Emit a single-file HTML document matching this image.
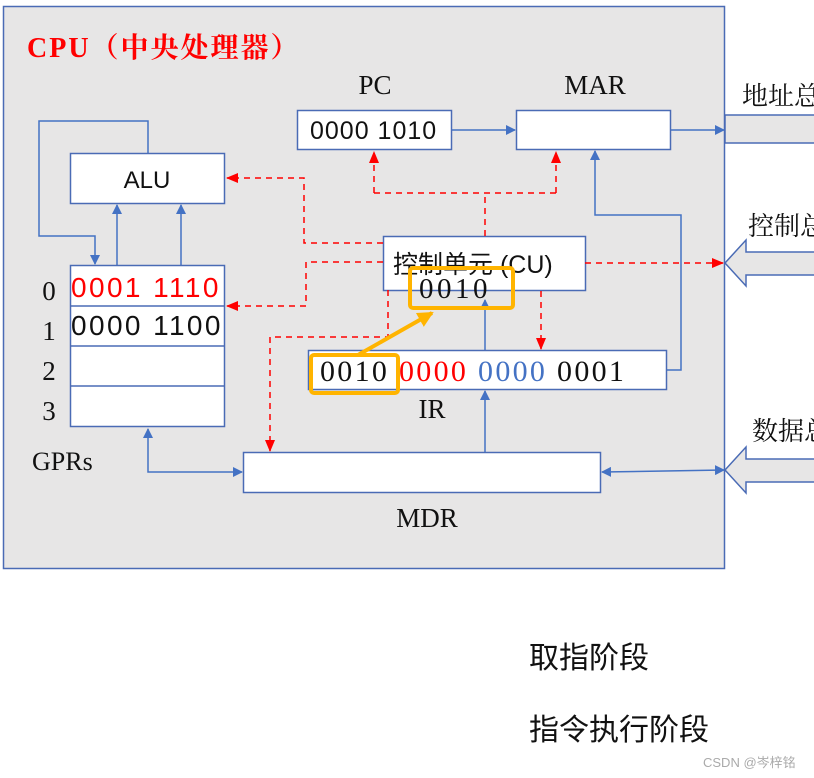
<!DOCTYPE html>
<html><head><meta charset="utf-8"><style>
html,body{margin:0;padding:0;background:#fff;width:814px;height:778px;overflow:hidden}
svg{display:block}
.s{font-family:"Liberation Serif","Noto Serif CJK SC",serif}
.a{font-family:"Liberation Sans","Noto Sans CJK SC",sans-serif}
</style></head><body>
<svg width="814" height="778" viewBox="0 0 814 778" xmlns="http://www.w3.org/2000/svg">
<defs>
<marker id="b" markerWidth="10" markerHeight="10" refX="9" refY="5" orient="auto" markerUnits="userSpaceOnUse"><path d="M0,0 L10,5 L0,10 z" fill="#4472c4"/></marker>
<marker id="bs" markerWidth="10" markerHeight="10" refX="1" refY="5" orient="auto" markerUnits="userSpaceOnUse"><path d="M10,0 L0,5 L10,10 z" fill="#4472c4"/></marker>
<marker id="r" markerWidth="12" markerHeight="12" refX="11" refY="6" orient="auto" markerUnits="userSpaceOnUse"><path d="M0,1 L12,6 L0,11 z" fill="#f00"/></marker>
<marker id="o" markerWidth="16" markerHeight="16" refX="14" refY="8" orient="auto" markerUnits="userSpaceOnUse"><path d="M0,0 L16,8 L0,16 z" fill="#ffb400"/></marker>
</defs>
<rect x="3.5" y="6.5" width="721" height="562" fill="#e7e6e6" stroke="#4a6bb5" stroke-width="1.5"/>
<text x="27" y="57" class="s" font-size="28" font-weight="bold" fill="#f00" letter-spacing="2">CPU（中央处理器）</text>
<rect x="725" y="115" width="100" height="28" fill="#e7e6e6" stroke="#4a6bb5" stroke-width="1.5"/>
<text x="742" y="105" class="s" font-size="26" fill="#111">地址总线</text>
<path d="M725,263 L746,240 L746,252 L830,252 L830,275 L746,275 L746,286 z" fill="#e7e6e6" stroke="#4a6bb5" stroke-width="1.5"/>
<text x="748" y="235" class="s" font-size="26" fill="#111">控制总线</text>
<path d="M725,470 L746,447 L746,459 L830,459 L830,482 L746,482 L746,493 z" fill="#e7e6e6" stroke="#4a6bb5" stroke-width="1.5"/>
<text x="752" y="440" class="s" font-size="26" fill="#111">数据总线</text>
<text x="375" y="94" class="s" font-size="27" text-anchor="middle" fill="#111">PC</text>
<rect x="297.5" y="110.5" width="154" height="39" fill="#fff" stroke="#4a6bb5" stroke-width="1.5"/>
<text x="310" y="139" class="a" font-size="25" letter-spacing="1" fill="#111">0000 1010</text>
<text x="595" y="94" class="s" font-size="27" text-anchor="middle" fill="#111">MAR</text>
<rect x="516.5" y="110.5" width="154" height="39" fill="#fff" stroke="#4a6bb5" stroke-width="1.5"/>
<line x1="452" y1="130" x2="515" y2="130" stroke="#4472c4" stroke-width="1.5" marker-end="url(#b)"/>
<line x1="671" y1="130" x2="724" y2="130" stroke="#4472c4" stroke-width="1.5" marker-end="url(#b)"/>
<rect x="70.5" y="153.5" width="154" height="50" fill="#fff" stroke="#4a6bb5" stroke-width="1.5"/>
<text x="147" y="188" class="a" font-size="24" text-anchor="middle" fill="#111">ALU</text>
<polyline points="148,153 148,121 39,121 39,236 95,236 95,264" fill="none" stroke="#4472c4" stroke-width="1.5" marker-end="url(#b)"/>
<line x1="117" y1="265" x2="117" y2="205" stroke="#4472c4" stroke-width="1.5" marker-end="url(#b)"/>
<line x1="181" y1="265" x2="181" y2="205" stroke="#4472c4" stroke-width="1.5" marker-end="url(#b)"/>
<rect x="70.5" y="265.5" width="154" height="161" fill="#fff" stroke="#4a6bb5" stroke-width="1.5"/>
<line x1="70" y1="306" x2="224" y2="306" stroke="#4a6bb5" stroke-width="1.5"/>
<line x1="70" y1="346" x2="224" y2="346" stroke="#4a6bb5" stroke-width="1.5"/>
<line x1="70" y1="386" x2="224" y2="386" stroke="#4a6bb5" stroke-width="1.5"/>
<text x="71" y="297" class="a" font-size="28" letter-spacing="2.4" fill="#f00">0001 1110</text>
<text x="71" y="335" class="a" font-size="28" letter-spacing="2.4" fill="#111">0000 1100</text>
<g class="s" font-size="27" fill="#111" text-anchor="middle">
<text x="49" y="300">0</text><text x="49" y="340">1</text><text x="49" y="380">2</text><text x="49" y="420">3</text>
</g>
<text x="32" y="470" class="s" font-size="26" fill="#111">GPRs</text>
<rect x="243.5" y="452.5" width="357" height="40" fill="#fff" stroke="#4a6bb5" stroke-width="1.5"/>
<text x="427" y="527" class="s" font-size="27" text-anchor="middle" fill="#111">MDR</text>
<polyline points="148,429 148,472 242,472" fill="none" stroke="#4472c4" stroke-width="1.5" marker-start="url(#bs)" marker-end="url(#b)"/>
<line x1="602" y1="472" x2="724" y2="470" stroke="#4472c4" stroke-width="1.5" marker-start="url(#bs)" marker-end="url(#b)"/>
<rect x="308.5" y="350.5" width="358" height="39" fill="#fff" stroke="#4a6bb5" stroke-width="1.5"/>
<text x="320" y="381" class="s" font-size="30" letter-spacing="2.3" fill="#111">0010 <tspan fill="#f00">0000</tspan> <tspan fill="#4472c4">0000</tspan> 0001</text>
<text x="432" y="418" class="s" font-size="27" text-anchor="middle" fill="#111">IR</text>
<line x1="485" y1="452" x2="485" y2="391" stroke="#4472c4" stroke-width="1.5" marker-end="url(#b)"/>
<line x1="485" y1="350" x2="485" y2="300" stroke="#4472c4" stroke-width="1.5" marker-end="url(#b)"/>
<polyline points="667,370 681,370 681,215 595,215 595,151" fill="none" stroke="#4472c4" stroke-width="1.5" marker-end="url(#b)"/>
<rect x="383.5" y="236.5" width="202" height="54" fill="#fff" stroke="#4a6bb5" stroke-width="1.5"/>
<text x="393" y="273" class="a" font-size="25" fill="#111">控制单元 (CU)</text>
<text x="419" y="298" class="s" font-size="29" letter-spacing="3.5" fill="#111">0010</text>
<g fill="none" stroke="#f00" stroke-width="1.5" stroke-dasharray="6,5">
<polyline points="485,236 485,193"/>
<polyline points="374,193 556,193"/>
<line x1="374" y1="193" x2="374" y2="152" marker-end="url(#r)"/>
<line x1="556" y1="193" x2="556" y2="152" marker-end="url(#r)"/>
<polyline points="383,243 304,243 304,178 227,178" marker-end="url(#r)"/>
<polyline points="383,262 306,262 306,306 227,306" marker-end="url(#r)"/>
<polyline points="388,290 388,337 270,337 270,451" marker-end="url(#r)"/>
<line x1="585" y1="263" x2="723" y2="263" marker-end="url(#r)"/>
<line x1="541" y1="291" x2="541" y2="349" marker-end="url(#r)"/>
</g>
<rect x="410" y="268" width="103" height="40" rx="3" fill="none" stroke="#ffb400" stroke-width="4"/>
<rect x="311" y="355" width="87" height="38" rx="3" fill="none" stroke="#ffb400" stroke-width="4"/>
<line x1="358" y1="355" x2="432" y2="313" stroke="#ffb400" stroke-width="4" marker-end="url(#o)"/>
<text x="529" y="668" class="a" font-size="30" fill="#111">取指阶段</text>
<text x="529" y="740" class="a" font-size="30" fill="#111">指令执行阶段</text>
<text x="703" y="767" class="a" font-size="13" fill="#aaa">CSDN @岑梓铭</text>
</svg>
</body></html>
